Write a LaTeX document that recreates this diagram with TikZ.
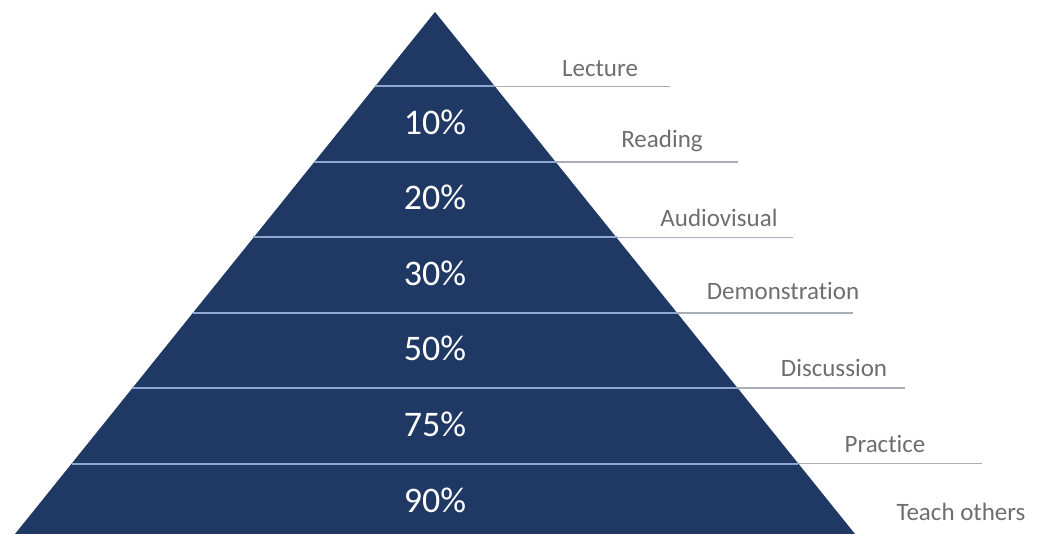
\documentclass[tikz,border=0pt]{standalone}
\usepackage{fontspec}
\setmainfont{Carlito}[Ligatures=NoCommon]
\definecolor{pyrblue}{HTML}{1F3864}
\definecolor{innerline}{HTML}{8FA6D0}
\definecolor{outerline}{HTML}{A8AEB8}
\definecolor{labelgrey}{HTML}{6E6E6E}
\tikzset{
  pyramid/.style={fill=pyrblue, draw=none},
  inline/.style={draw=innerline, line width=2pt},
  outline/.style={draw=outerline, line width=1.4pt},
  pct/.style={anchor=base, text=white, font=\fontsize{36}{36}\selectfont, inner sep=0pt},
  lbl/.style={anchor=base, text=labelgrey, font=\fontsize{25}{25}\selectfont, inner sep=0pt}
}
\begin{document}
\begin{tikzpicture}[x=1pt,y=-1pt]
\useasboundingbox (0,0) rectangle (1039,534);
\coordinate (apex) at (435,12);
\coordinate (bl) at (15,534);
\coordinate (br) at (855,534);
\fill[pyramid] (apex) -- (bl) -- (br) -- cycle;
% dividing lines
\foreach \i/\y/\e in {1/86.5/670, 2/162/738, 3/237.5/793, 4/313/853, 5/388/905, 6/463.5/982}{
  \pgfmathsetmacro{\xl}{435-0.805*(\y-12)}
  \pgfmathsetmacro{\xr}{435+0.805*(\y-12)}
  \coordinate (L\i) at (\xl,\y);
  \coordinate (R\i) at (\xr,\y);
  \coordinate (E\i) at (\e,\y);
  \draw[outline] (R\i) -- (E\i);
  \draw[inline] (L\i) -- (R\i);
}
% percentages
\node[pct] (p10) at (435,135) {10\%};
\node[pct] (p20) at (435,210) {20\%};
\node[pct] (p30) at (435,286) {30\%};
\node[pct] (p50) at (435,361) {50\%};
\node[pct] (p75) at (435,437) {75\%};
\node[pct] (p90) at (435,512) {90\%};
% labels
\node[lbl] (lecture) at (600,77) {Lecture};
\node[lbl] (reading) at (662,148) {Reading};
\node[lbl] (audio) at (719,227) {Audiovisual};
\node[lbl] (demo) at (783,300) {Demonstration};
\node[lbl] (disc) at (834,377) {Discussion};
\node[lbl] (prac) at (885,453) {Practice};
\node[lbl] (teach) at (961,520) {Teach others};
\end{tikzpicture}
\end{document}
